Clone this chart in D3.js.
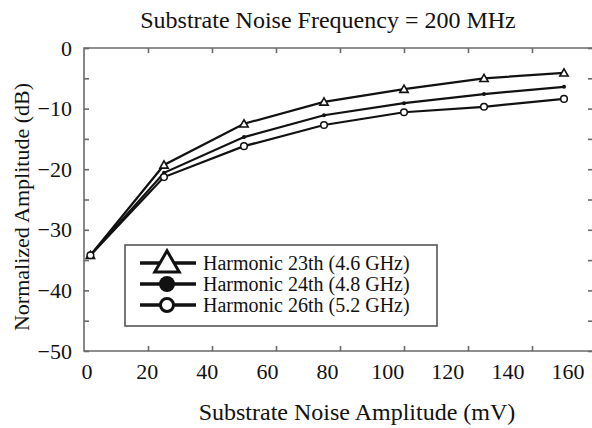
<!DOCTYPE html>
<html>
<head>
<meta charset="utf-8">
<script src="https://cdn.jsdelivr.net/npm/d3@7"></script>
<style>
  html, body { margin: 0; padding: 0; background: #fff; }
  svg { display: block; }
  text { font-family: "Liberation Serif", "Times New Roman", serif; fill: #111; }
</style>
</head>
<body>
<svg id="chart" width="592" height="428"></svg>
<script>
// ---- data ----
const noiseAmplitude = [2, 25, 50, 75, 100, 125, 150];   // mV
const harmonic23 = [-34.2, -19.3, -12.5, -8.9, -6.8, -5.0, -4.1];
const harmonic24 = [-34.2, -20.6, -14.7, -11.1, -9.1, -7.6, -6.4];
const harmonic26 = [-34.2, -21.3, -16.2, -12.7, -10.6, -9.7, -8.4];
const seriesNames = ["Harmonic 23th (4.6 GHz)", "Harmonic 24th (4.8 GHz)", "Harmonic 26th (5.2 GHz)"];
const xTickLabels = [0, 20, 40, 60, 80, 100, 120, 140, 160];
const yTickLabels = [0, -10, -20, -30, -40, -50];
const xMinorTicks = [20, 40, 60, 80, 100, 120, 140];
const yMinorTicks = [0, -5, -10, -15, -20, -25, -30, -35, -40, -45, -50];

const svg = d3.select("#chart");
const x = d3.scaleLinear().domain([0, 160]).range([84, 596]);
const xLab = d3.scaleLinear().domain([0, 160]).range([86.5, 567.5]);
const y = d3.scaleLinear().domain([-50, 0]).range([351, 48]);

const frameColor = "#6a6a6a";

// frame
svg.append("path")
  .attr("d", `M${x(0)},${y(0)}H${x(160)}V${y(-50)}H${x(0)}Z`)
  .attr("fill", "none").attr("stroke", frameColor).attr("stroke-width", 1.6);

function styleTicks(g) {
  g.select(".domain").remove();
  g.selectAll(".tick line").attr("stroke", frameColor).attr("stroke-width", 1.6);
}
svg.append("g").attr("transform", `translate(0,${y(-50)})`)
  .call(d3.axisBottom(x).tickValues(xMinorTicks).tickSize(-5).tickFormat(""))
  .call(styleTicks);
svg.append("g").attr("transform", `translate(0,${y(0)})`)
  .call(d3.axisTop(x).tickValues(xMinorTicks).tickSize(-5).tickFormat(""))
  .call(styleTicks);
svg.append("g").attr("transform", `translate(${x(0)},0)`)
  .call(d3.axisLeft(y).tickValues(yMinorTicks).tickSize(-5).tickFormat(""))
  .call(styleTicks);
svg.append("g").attr("transform", `translate(${x(160)},0)`)
  .call(d3.axisRight(y).tickValues(yMinorTicks).tickSize(-8).tickFormat(""))
  .call(styleTicks);

// tick labels
const xl = svg.append("g").attr("transform", `translate(0,${y(-50)})`)
  .call(d3.axisBottom(xLab).tickValues(xTickLabels).tickSize(0).tickPadding(12).tickFormat(d3.format("d")));
xl.select(".domain").remove();
xl.selectAll("text").attr("font-size", 22).attr("fill", "#111");

const yl = svg.append("g").attr("transform", `translate(${x(0)},0)`)
  .call(d3.axisLeft(y).tickValues(yTickLabels).tickSize(0).tickPadding(12).tickFormat(d3.format("d")));
yl.select(".domain").remove();
yl.selectAll("text").attr("font-size", 22).attr("fill", "#111");

// titles
svg.append("text").attr("x", 328).attr("y", 28).attr("text-anchor", "middle")
  .attr("font-size", 24).text("Substrate Noise Frequency = 200 MHz");
svg.append("text").attr("x", 357).attr("y", 420).attr("text-anchor", "middle")
  .attr("font-size", 24).text("Substrate Noise Amplitude (mV)");
svg.append("text").attr("transform", "translate(29,207) rotate(-90)").attr("text-anchor", "middle")
  .attr("font-size", 22).text("Normalized Amplitude (dB)");

// lines
const series = [
  { name: seriesNames[0], values: harmonic23, marker: "triangle" },
  { name: seriesNames[1], values: harmonic24, marker: "dot" },
  { name: seriesNames[2], values: harmonic26, marker: "circle" }
];
const line = d3.line().x((d, i) => x(noiseAmplitude[i])).y(d => y(d));

function drawMarker(g, type, cx, cy, big) {
  if (type === "triangle") {
    const s = big ? 260 : 30;
    g.append("path")
      .attr("d", d3.symbol().type(d3.symbolTriangle).size(s)())
      .attr("transform", `translate(${cx},${cy + (big ? 2 : 0.8)})`)
      .attr("fill", "#fff").attr("stroke", "#111").attr("stroke-width", big ? 3 : 1.6);
  } else if (type === "dot") {
    g.append("circle").attr("cx", cx).attr("cy", cy).attr("r", big ? 8 : 2)
      .attr("fill", "#111");
  } else {
    g.append("circle").attr("cx", cx).attr("cy", cy).attr("r", big ? 6.5 : 3.3)
      .attr("fill", "#fff").attr("stroke", "#111").attr("stroke-width", big ? 3 : 1.5);
  }
}

series.forEach(s => {
  svg.append("path").datum(s.values).attr("d", line)
    .attr("fill", "none").attr("stroke", "#111").attr("stroke-width", 2.2);
});
series.forEach(s => {
  const g = svg.append("g");
  s.values.forEach((v, i) => drawMarker(g, s.marker, x(noiseAmplitude[i]), y(v), false));
});

// legend
const lg = svg.append("g");
lg.append("rect").attr("x", 125).attr("y", 245).attr("width", 312).attr("height", 81)
  .attr("fill", "#fff").attr("stroke", "#555").attr("stroke-width", 1.6);
series.forEach((s, i) => {
  const cy = 263 + i * 21;
  lg.append("line").attr("x1", 140).attr("x2", 196).attr("y1", cy).attr("y2", cy)
    .attr("stroke", "#111").attr("stroke-width", 3.5);
  drawMarker(lg, s.marker, 167, cy, true);
  lg.append("text").attr("x", 203).attr("y", cy + 7).attr("font-size", 20).text(s.name);
});
</script>
</body>
</html>
